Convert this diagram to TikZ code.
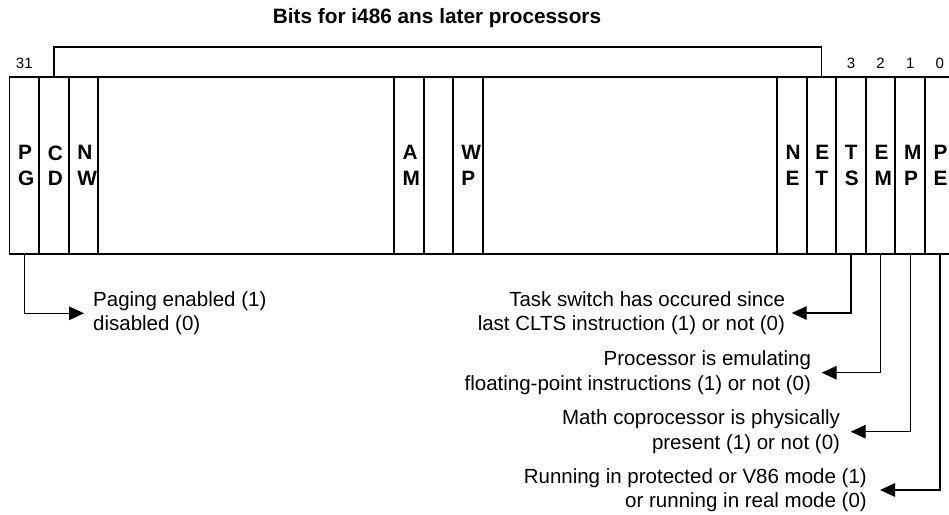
\documentclass[tikz,border=0pt]{standalone}
\usepackage{fontspec}
\setmainfont{Liberation Sans}
\usetikzlibrary{arrows.meta,positioning}
\begin{document}
\begin{tikzpicture}[x=1pt,y=-1pt,
  cell/.style={draw, line width=1.9pt, rectangle, inner sep=0pt, outer sep=0pt,
    minimum height=177pt, minimum width=29.6pt, anchor=west},
  bitname/.style={anchor=west, inner sep=0pt, align=left,
    font=\fontsize{20.8}{25.5}\selectfont\bfseries},
  bitnum/.style={inner sep=0pt, font=\fontsize{15}{17}\selectfont},
  desc/.style={inner ysep=0pt, font=\fontsize{20.5}{24.5}\selectfont},
  conn/.style={line width=1.4pt, -{Triangle[length=15pt,width=13.5pt]}},
  bracket/.style={line width=1.4pt}]
\useasboundingbox (0,0) rectangle (949,514);
\clip (0,0) rectangle (949,514);

\node[font=\fontsize{20.8}{25}\selectfont\bfseries, inner sep=0pt] (title) at (437,18)
  {Bits for i486 ans later processors};

% register cells
\node[cell] (PG) at (9.5,165.5) {};
\node[cell, right=0pt of PG] (CD) {};
\node[cell, right=0pt of CD] (NW) {};
\node[cell, right=0pt of NW, minimum width=295.7pt] (B1) {};
\node[cell, right=0pt of B1] (AM) {};
\node[cell, right=0pt of AM] (B2) {};
\node[cell, right=0pt of B2] (WP) {};
\node[cell, right=0pt of WP, minimum width=294.2pt] (B3) {};
\node[cell, right=0pt of B3] (NE) {};
\node[cell, right=0pt of NE] (ET) {};
\node[cell, right=0pt of ET] (TS) {};
\node[cell, right=0pt of TS] (EM) {};
\node[cell, right=0pt of EM] (MP) {};
\node[cell, right=0pt of MP] (PE) {};

% bit names
\node[bitname] (tPG) at ([xshift=8.5pt]PG.west) {P\\G};
\node[bitname] (tCD) at ([xshift=8.5pt]CD.west) {C\\D};
\node[bitname] (tNW) at ([xshift=8.5pt]NW.west) {N\\W};
\node[bitname] (tAM) at ([xshift=8.5pt]AM.west) {A\\M};
\node[bitname] (tWP) at ([xshift=8pt]WP.west) {W\\P};
\node[bitname] (tNE) at ([xshift=8.5pt]NE.west) {N\\E};
\node[bitname] (tET) at ([xshift=8.5pt]ET.west) {E\\T};
\node[bitname] (tTS) at ([xshift=8.5pt]TS.west) {T\\S};
\node[bitname] (tEM) at ([xshift=8.5pt]EM.west) {E\\M};
\node[bitname] (tMP) at ([xshift=8.5pt]MP.west) {M\\P};
\node[bitname] (tPE) at ([xshift=8.5pt]PE.west) {P\\E};

% bit numbers
\node[bitnum] (n31) at ([yshift=14pt]PG.north) {31};
\node[bitnum] (n3) at ([yshift=14pt]TS.north) {3};
\node[bitnum] (n2) at ([yshift=14pt]EM.north) {2};
\node[bitnum] (n1) at ([yshift=14pt]MP.north) {1};
\node[bitnum] (n0) at ([yshift=14pt]PE.north) {0};

% bracket
\draw[bracket] (CD.north) -- ++(0,-30) -| (ET.north);

% descriptions
\node[desc, anchor=west, align=left, inner xsep=9pt] (dPG) at (84,313.3)
  {Paging enabled (1)\\disabled (0)};
\node[desc, anchor=east, align=right, inner xsep=6.5pt] (dTS) at (791.7,313)
  {Task switch has occured since\\last CLTS instruction (1) or not (0)};
\node[desc, anchor=east, align=right, inner xsep=10.5pt] (dEM) at (821.7,372.7)
  {Processor is emulating\\floating-point instructions (1) or not (0)};
\node[desc, anchor=east, align=right, inner xsep=10.5pt] (dMP) at (850.7,431.7)
  {Math coprocessor is physically\\present (1) or not (0)};
\node[desc, anchor=east, align=right, inner xsep=13pt] (dPE) at (880,490)
  {Running in protected or V86 mode (1)\\or running in real mode (0)};

% connectors
\draw[conn] (PG.south) |- (dPG.west);
\draw[conn] (TS.south) |- (dTS.east);
\draw[conn] (EM.south) |- (dEM.east);
\draw[conn] (MP.south) |- (dMP.east);
\draw[conn] (PE.south) |- (dPE.east);
\end{tikzpicture}
\end{document}
